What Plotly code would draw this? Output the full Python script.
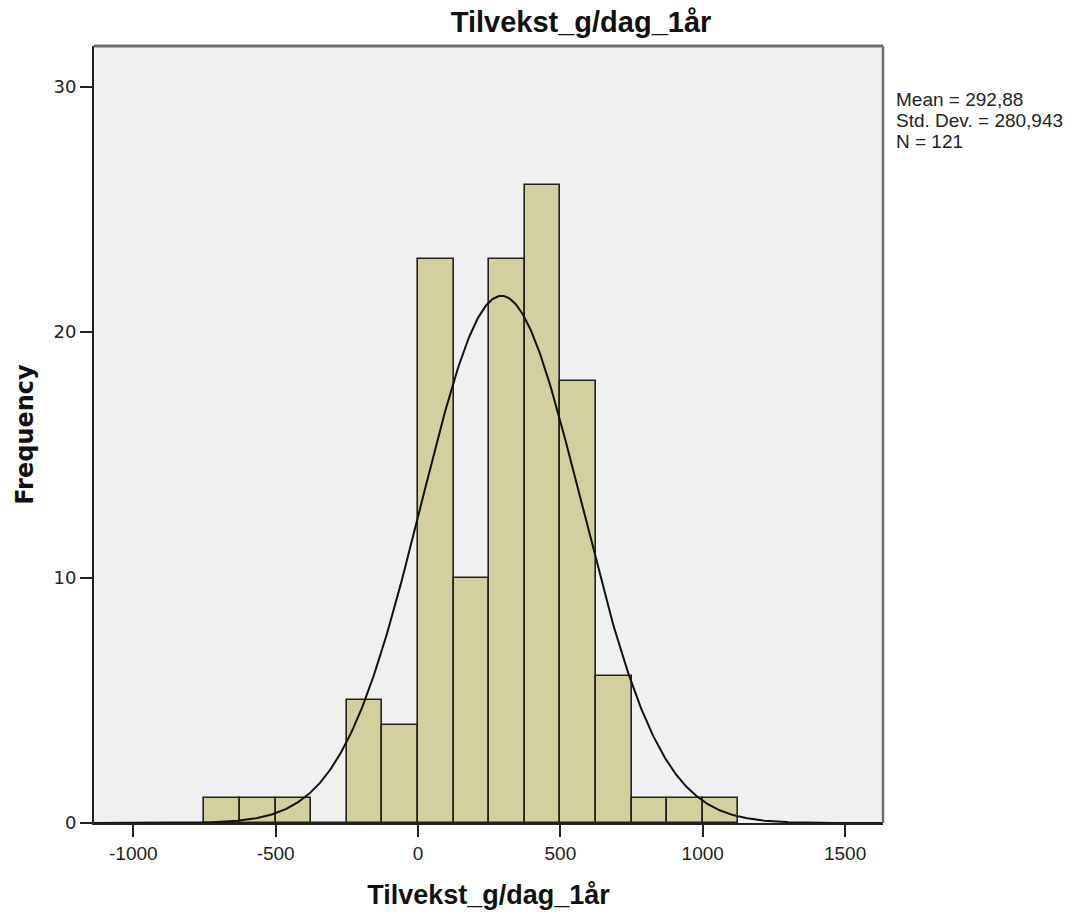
import numpy as np
import plotly.graph_objects as go

# Histogram bins (width 125) and their counts
bin_starts = [-750, -625, -500, -375, -250, -125, 0, 125, 250, 375, 500, 625, 750, 875, 1000]
counts = [1, 1, 1, 0, 5, 4, 23, 10, 23, 26, 18, 6, 1, 1, 1]
bin_width = 125

# Summary statistics
mean_val = 292.88
std_val = 280.943
n_val = 121
stat_lines = ["Mean = 292,88", "Std. Dev. = 280,943", "N = 121"]

x_ticks = [-1000, -500, 0, 500, 1000, 1500]
x_ticktext = ["-1000", "-500", "0", "500", "1000", "1500"]
y_ticks = [0, 10, 20, 30]

sans = "Liberation Sans, Arial"

centers = [s + bin_width / 2 for s in bin_starts]

fig = go.Figure()
fig.add_trace(go.Bar(
    x=centers, y=counts, width=bin_width,
    marker=dict(color="#d3cf9f", line=dict(color="#22221c", width=1.6)),
    showlegend=False, hoverinfo="skip",
))

# Normal curve scaled to counts
xr = [-1138, 1633]
xs = np.linspace(xr[0], xr[1], 600)
ys = n_val * bin_width / (std_val * np.sqrt(2 * np.pi)) * np.exp(-0.5 * ((xs - mean_val) / std_val) ** 2)
fig.add_trace(go.Scatter(x=xs, y=ys, mode="lines", line=dict(color="#111111", width=2),
                         showlegend=False, hoverinfo="skip"))

annotations = []
for i, line in enumerate(stat_lines):
    annotations.append(dict(
        xref="paper", yref="paper", x=1.014, y=(828 - (100 + 21 * i)) / 782,
        xanchor="left", yanchor="middle", align="left", showarrow=False,
        text=line, font=dict(family=sans, size=19, color="#222"),
    ))

fig.update_layout(
    width=1082, height=917,
    margin=dict(l=94, r=199, t=46, b=89),
    paper_bgcolor="white", plot_bgcolor="#f0f0f0",
    bargap=0,
    title=dict(text="<b>Tilvekst_g/dag_1år</b>", x=0.537, xanchor="center", y=0.976, yanchor="middle",
               font=dict(family=sans, size=29, color="#111111")),
    xaxis=dict(range=xr, tickvals=x_ticks, ticktext=x_ticktext, ticks="outside", ticklen=12, tickwidth=1.5,
               tickcolor="#222", showgrid=False, zeroline=False, showline=True, linecolor="#222", linewidth=2,
               tickfont=dict(family=sans, size=19, color="#222"),
               title=dict(text="<b>Tilvekst_g/dag_1år</b>", standoff=22,
                          font=dict(family=sans, size=27, color="#111111"))),
    yaxis=dict(range=[0, 31.66], tickvals=y_ticks, ticks="outside", ticklen=12, tickwidth=1.5, tickcolor="#222",
               showgrid=False, zeroline=False, showline=True, linecolor="#222", linewidth=2,
               tickfont=dict(family="DejaVu Sans, Verdana", size=18, color="#222"),
               title=dict(text="<b>Frequency</b>", standoff=13,
                          font=dict(family="DejaVu Sans, Verdana", size=24, color="#111111"))),
    annotations=annotations,
    shapes=[
        dict(type="line", xref="paper", yref="paper", x0=0, x1=1, y0=1, y1=1,
             line=dict(color="#6e6e6e", width=3)),
        dict(type="line", xref="paper", yref="paper", x0=1, x1=1, y0=0, y1=1,
             line=dict(color="#6e6e6e", width=2.5)),
    ],
)

fig.write_html("out.html")
